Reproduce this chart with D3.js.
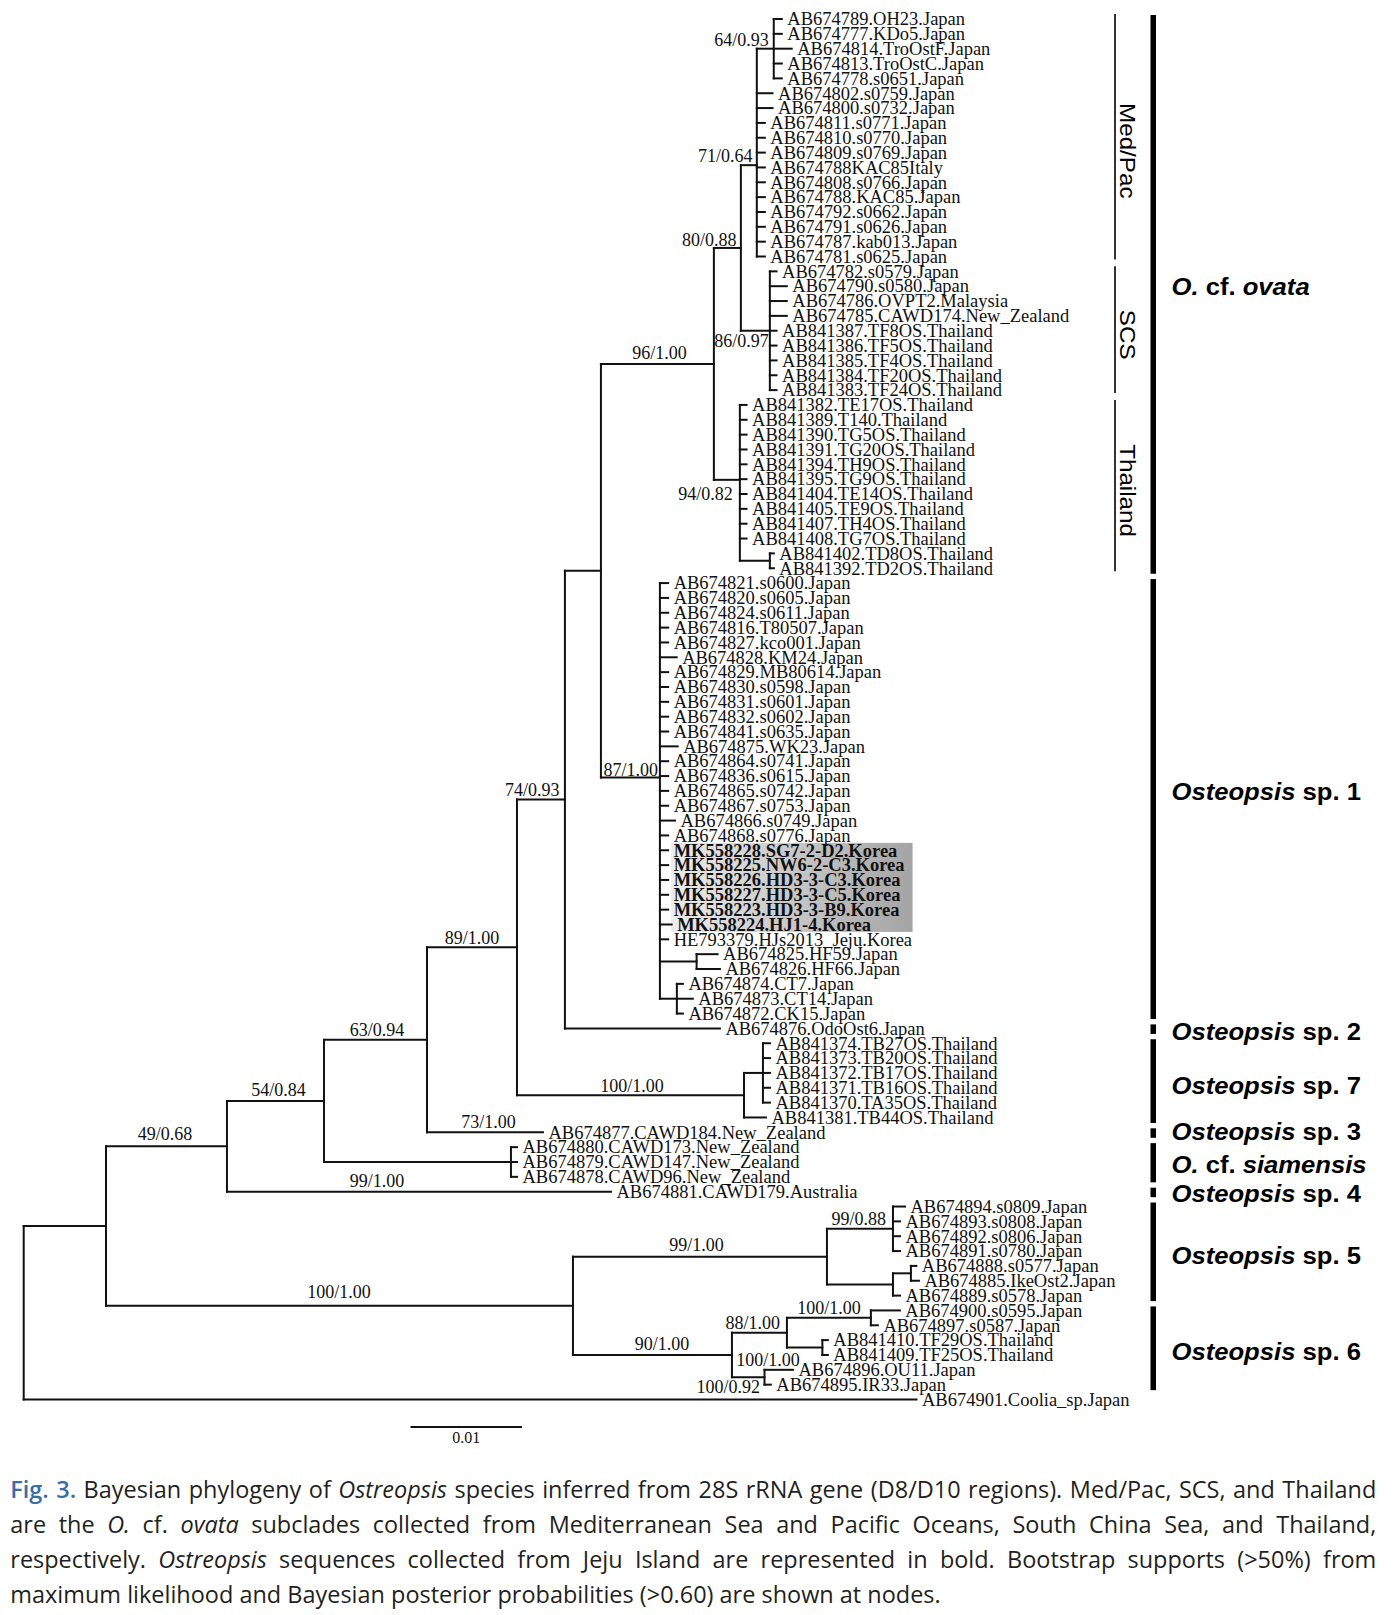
<!DOCTYPE html>
<html>
<head>
<meta charset="utf-8">
<script src="https://cdn.jsdelivr.net/npm/d3@7"></script>
<style>
  html, body { margin: 0; padding: 0; background: #fff; }
  svg { display: block; }
</style>
</head>
<body>
<svg id="chart" width="1395" height="1615"></svg>
<script>
// ---------------- DATA ----------------
// Clades as Newick strings (branch lengths in substitutions/site), internal node ids after ')'
const medPac = "((AB674789.OH23.Japan:0.00072,AB674777.KDo5.Japan:0.00072,AB674814.TroOstF.Japan:0.00161,AB674813.TroOstC.Japan:0.00072,AB674778.s0651.Japan:0.00072)Q:0.00152,AB674802.s0759.Japan:0.00141,AB674800.s0732.Japan:0.00141,AB674811.s0771.Japan:0.00072,AB674810.s0770.Japan:0.00072,AB674809.s0769.Japan:0.00072,AB674788KAC85Italy:0.00072,AB674808.s0766.Japan:0.00072,AB674788.KAC85.Japan:0.00072,AB674792.s0662.Japan:0.00072,AB674791.s0626.Japan:0.00072,AB674787.kab013.Japan:0.00072,AB674781.s0625.Japan:0.00072)O";
const scs = "(AB674782.s0579.Japan:0.00060,AB674790.s0580.Japan:0.00152,AB674786.OVPT2.Malaysia:0.00152,AB674785.CAWD174.New_Zealand:0.00152,AB841387.TF8OS.Thailand:0.00060,AB841386.TF5OS.Thailand:0.00060,AB841385.TF4OS.Thailand:0.00060,AB841384.TF20OS.Thailand:0.00060,AB841383.TF24OS.Thailand:0.00060)P";
const thai = "(AB841382.TE17OS.Thailand:0.00060,AB841389.T140.Thailand:0.00060,AB841390.TG5OS.Thailand:0.00060,AB841391.TG20OS.Thailand:0.00060,AB841394.TH9OS.Thailand:0.00060,AB841395.TG9OS.Thailand:0.00060,AB841404.TE14OS.Thailand:0.00060,AB841405.TE9OS.Thailand:0.00060,AB841407.TH4OS.Thailand:0.00060,AB841408.TG7OS.Thailand:0.00060,(AB841402.TD8OS.Thailand:0.00036,AB841392.TD2OS.Thailand:0.00036)AA:0.00269)N";
const sp1 = "(AB674821.s0600.Japan:0.00074,AB674820.s0605.Japan:0.00074,AB674824.s0611.Japan:0.00074,AB674816.T80507.Japan:0.00074,AB674827.kco001.Japan:0.00074,AB674828.KM24.Japan:0.00150,AB674829.MB80614.Japan:0.00074,AB674830.s0598.Japan:0.00074,AB674831.s0601.Japan:0.00074,AB674832.s0602.Japan:0.00074,AB674841.s0635.Japan:0.00074,AB674875.WK23.Japan:0.00159,AB674864.s0741.Japan:0.00074,AB674836.s0615.Japan:0.00074,AB674865.s0742.Japan:0.00074,AB674867.s0753.Japan:0.00074,AB674866.s0749.Japan:0.00135,AB674868.s0776.Japan:0.00074,MK558228.SG7-2-D2.Korea:0.00074,MK558225.NW6-2-C3.Korea:0.00074,MK558226.HD3-3-C3.Korea:0.00074,MK558227.HD3-3-C5.Korea:0.00074,MK558223.HD3-3-B9.Korea:0.00074,MK558224.HJ1-4.Korea:0.00105,HE793379.HJs2013_Jeju.Korea:0.00074,(AB674825.HF59.Japan:0.00188,AB674826.HF66.Japan:0.00209)HF:0.00329,(AB674874.CT7.Japan:0.00054,AB674873.CT14.Japan:0.00143,AB674872.CK15.Japan:0.00054)CT:0.00152)L";
const sp7 = "((AB841374.TB27OS.Thailand:0.00063,AB841373.TB20OS.Thailand:0.00063,AB841372.TB17OS.Thailand:0.00063,AB841371.TB16OS.Thailand:0.00063,AB841370.TA35OS.Thailand:0.00063)I:0.00170,AB841381.TB44OS.Thailand:0.00197)H";
const siam = "(AB674880.CAWD173.New_Zealand:0.00054,AB674879.CAWD147.New_Zealand:0.00054,AB674878.CAWD96.New_Zealand:0.00054)Sia";
const sp5 = "((AB674894.s0809.Japan:0.00108,AB674893.s0808.Japan:0.00063,AB674892.s0806.Japan:0.00063,AB674891.s0780.Japan:0.00063)S:0.00592,((AB674888.s0577.Japan:0.00049,AB674885.IkeOst2.Japan:0.00072)U:0.00161,AB674889.s0578.Japan:0.00063)T:0.00592)R";
const sp6 = "(((AB674900.s0595.Japan:0.00260,AB674897.s0587.Japan:0.00063)X:0.00753,(AB841410.TF29OS.Thailand:0.00049,AB841409.TF25OS.Thailand:0.00049)Y:0.00318)W:0.00493,(AB674896.OU11.Japan:0.00255,AB674895.IR33.Japan:0.00057)Z:0.00292)V";

const treeNewick =
  "((((((((((" + medPac + ":0.00143," + scs + ":0.00260)M:0.00242," +
  thai + ":0.00233)K:0.01013," + sp1 + ":0.00529)J:0.00323," +
  "AB674876.OdoOst6.Japan:0.01390)G:0.00430," + sp7 + ":0.02036)F:0.00807," +
  "AB674877.CAWD184.New_Zealand:0.01040)E:0.00924," + siam + ":0.01677)D:0.00870," +
  "AB674881.CAWD179.Australia:0.03444)B:0.01085,(" + sp5 + ":0.02278," + sp6 + ":0.01426)C:0.04188)A:0.00738," +
  "AB674901.Coolia_sp.Japan:0.08007)root;";

// support values (ML bootstrap / Bayesian PP) and the node they belong to
const supportNodes  = ["Q","O","M","P","N","K","L","G","F","E","D","B","H","AB674877.CAWD184.New_Zealand","Sia","C","R","S","V","W","X","Z","Z"];
const supportValues = ["64/0.93","71/0.64","80/0.88","86/0.97","94/0.82","96/1.00","87/1.00","74/0.93","89/1.00","63/0.94","54/0.84","49/0.68","100/1.00","73/1.00","99/1.00","100/1.00","99/1.00","99/0.88","90/1.00","88/1.00","100/1.00","100/1.00","100/0.92"];

// sequences from Jeju (bold, highlighted)
const jejuLeaves = ["MK558228.SG7-2-D2.Korea","MK558225.NW6-2-C3.Korea","MK558226.HD3-3-C3.Korea","MK558227.HD3-3-C5.Korea","MK558223.HD3-3-B9.Korea","MK558224.HJ1-4.Korea"];

// species clades (right-hand bars)
const cladeLabels = ["*O.* cf. *ovata*","*Osteopsis* sp. 1","*Osteopsis* sp. 2","*Osteopsis* sp. 7","*Osteopsis* sp. 3","*O.* cf. *siamensis*","*Osteopsis* sp. 4","*Osteopsis* sp. 5","*Osteopsis* sp. 6"];
const cladeFirst = ["AB674789.OH23.Japan","AB674821.s0600.Japan","AB674876.OdoOst6.Japan","AB841374.TB27OS.Thailand","AB674877.CAWD184.New_Zealand","AB674880.CAWD173.New_Zealand","AB674881.CAWD179.Australia","AB674894.s0809.Japan","AB674900.s0595.Japan"];
const cladeLast  = ["AB841392.TD2OS.Thailand","AB674872.CK15.Japan","AB674876.OdoOst6.Japan","AB841381.TB44OS.Thailand","AB674877.CAWD184.New_Zealand","AB674878.CAWD96.New_Zealand","AB674881.CAWD179.Australia","AB674889.s0578.Japan","AB674895.IR33.Japan"];

// O. cf. ovata subclades
const subLabels = ["Med/Pac","SCS","Thailand"];
const subFirst = ["AB674789.OH23.Japan","AB674782.s0579.Japan","AB841382.TE17OS.Thailand"];
const subLast  = ["AB674781.s0625.Japan","AB841383.TF24OS.Thailand","AB841392.TD2OS.Thailand"];

const scaleBarValue = 0.01;
const scaleBarLabel = "0.01";

const captionLines = [
  "Fig. 3. Bayesian phylogeny of *Ostreopsis* species inferred from 28S rRNA gene (D8/D10 regions). Med/Pac, SCS, and Thailand",
  "are the *O.* cf. *ovata* subclades collected from Mediterranean Sea and Pacific Oceans, South China Sea, and Thailand,",
  "respectively. *Ostreopsis* sequences collected from Jeju Island are represented in bold. Bootstrap supports (>50%) from",
  "maximum likelihood and Bayesian posterior probabilities (>0.60) are shown at nodes."
];

// ---------------- DRAWING ----------------
function parseNewick(s) {
  let i = 0;
  function node() {
    const n = {};
    if (s[i] === "(") {
      i++;
      n.children = [node()];
      while (s[i] === ",") { i++; n.children.push(node()); }
      i++; // ')'
    }
    let name = "";
    while (i < s.length && !",():;".includes(s[i])) name += s[i++];
    n.name = name.trim();
    n.length = 0;
    if (s[i] === ":") {
      i++;
      let len = "";
      while (i < s.length && !",();".includes(s[i])) len += s[i++];
      n.length = +len;
    }
    return n;
  }
  return node();
}

const svg = d3.select("#chart");
const serif = "'Liberation Serif','Times New Roman',Times,serif";
const sans = "'Liberation Sans',Arial,Helvetica,sans-serif";

const root = d3.hierarchy(parseNewick(treeNewick));
root.eachBefore(n => { n.dist = n.parent ? n.parent.dist + n.data.length : 0; });
const leaves = root.leaves();
const byName = new Map(root.descendants().map(d => [d.data.name, d]));

const x = d3.scaleLinear().domain([0, scaleBarValue]).range([23.7, 135.2]);
const y = d3.scaleLinear().domain([0, leaves.length - 1]).range([19, 1399.5]);
const step = y(1) - y(0);
leaves.forEach((l, i) => { l.py = y(i); });
root.eachAfter(n => {
  if (n.children) n.py = d3.mean(n.children, c => c.py);
  n.px = x(n.dist);
});

// highlight group (filled later, drawn beneath labels)
const gHi = svg.append("g");
const grad = svg.append("defs").append("linearGradient").attr("id", "hiGrad")
  .attr("x1", "0%").attr("x2", "100%").attr("y1", "0%").attr("y2", "0%");
grad.append("stop").attr("offset", "0%").attr("stop-color", "#ececec");
grad.append("stop").attr("offset", "100%").attr("stop-color", "#a4a4a4");

// branches
const gTree = svg.append("g").attr("stroke", "#111").attr("stroke-width", 2)
  .attr("stroke-linecap", "square").attr("fill", "none");
gTree.selectAll("line.h").data(root.descendants().filter(d => d.parent)).join("line")
  .attr("class", "h")
  .attr("x1", d => d.parent.px).attr("x2", d => d.px)
  .attr("y1", d => d.py).attr("y2", d => d.py);
gTree.selectAll("line.v").data(root.descendants().filter(d => d.children)).join("line")
  .attr("class", "v")
  .attr("x1", d => d.px).attr("x2", d => d.px)
  .attr("y1", d => d.children[0].py).attr("y2", d => d.children[d.children.length - 1].py);

// leaf labels
const labelGap = 5.5;
const gLab = svg.append("g").attr("font-family", serif).attr("font-size", 18.5).attr("fill", "#111");
const leafText = gLab.selectAll("text").data(leaves).join("text")
  .attr("x", d => d.px + labelGap).attr("y", d => d.py).attr("dy", "0.34em")
  .attr("font-weight", d => jejuLeaves.includes(d.data.name) ? "bold" : null)
  .text(d => d.data.name);

// highlight box behind Jeju sequences
(function () {
  const nodes = leaves.filter(l => jejuLeaves.includes(l.data.name));
  let minX = Infinity, maxX = -Infinity;
  leafText.filter(d => jejuLeaves.includes(d.data.name)).each(function (d) {
    const w = this.getComputedTextLength();
    minX = Math.min(minX, d.px + labelGap);
    maxX = Math.max(maxX, d.px + labelGap + w);
  });
  const top = nodes[0].py - step / 2, bot = nodes[nodes.length - 1].py + step / 2;
  gHi.append("rect").attr("x", minX - 2.6).attr("y", top)
    .attr("width", maxX + 8 - (minX - 2.6)).attr("height", bot - top)
    .attr("fill", "url(#hiGrad)");
})();

// support labels
const supportPlacement = [
  {m: "left", dx: -5, dy: -9},     // Q
  {m: "left", dx: -4.3, dy: -9.7}, // O
  {m: "left", dx: -4.3, dy: -7.6}, // M
  {m: "left", dx: -1, dy: 10},     // P
  {m: "left", dx: -7, dy: 14.5},   // N
  {m: "above", dx: 2, dy: -11.2},  // K
  {m: "left", dx: -2, dy: -7.5},   // L
  {m: "left", dx: -5.5, dy: -9.4}, // G
  {m: "above", dx: 0, dy: -9.5},   // F
  {m: "above", dx: 1.5, dy: -9.5}, // E
  {m: "above", dx: 3, dy: -11.5},  // D
  {m: "above", dx: -1.5, dy: -12}, // B
  {m: "above", dx: 1.5, dy: -9.5}, // H
  {m: "above", dx: 3.5, dy: -10.6},// CAWD184
  {m: "above", dx: -40.5, dy: 19}, // Sia
  {m: "above", dx: -0.5, dy: -14}, // C
  {m: "above", dx: -3.5, dy: -11.5},// R
  {m: "left", dx: -7, dy: -10},    // S
  {m: "above", dx: 9.5, dy: -11},  // V
  {m: "left", dx: -7, dy: -10},    // W
  {m: "above", dx: 0, dy: -10.4},  // X
  {m: "mid", dx: 3.4, dy: -17},    // Z
  {m: "left", dx: -4.6, dy: 10}    // Z
];
const gSup = svg.append("g").attr("font-family", serif).attr("font-size", 18).attr("fill", "#111");
supportNodes.forEach((id, k) => {
  const n = byName.get(id), p = supportPlacement[k];
  let tx, anchor;
  if (p.m === "left") { tx = n.px + p.dx; anchor = "end"; }
  else if (p.m === "mid") { tx = n.px + p.dx; anchor = "middle"; }
  else { tx = (n.parent.px + n.px) / 2 + p.dx; anchor = "middle"; }
  gSup.append("text").attr("x", tx).attr("y", n.py + p.dy).attr("dy", "0.34em")
    .attr("text-anchor", anchor).text(supportValues[k]);
});

// rich text helper (*italic*)
function rich(sel, str) {
  str.split(/(\*[^*]+\*)/).filter(s => s.length).forEach(seg => {
    const it = seg.startsWith("*");
    sel.append("tspan").attr("font-style", it ? "italic" : "normal")
      .text(it ? seg.slice(1, -1) : seg);
  });
}

// clade bars + labels
const cladeDy = [-7, -7, 3, 5, -1, 3, 2, 5, 4];
const gClade = svg.append("g");
cladeLabels.forEach((lab, k) => {
  const a = byName.get(cladeFirst[k]).py, b = byName.get(cladeLast[k]).py;
  gClade.append("rect").attr("x", 1150.5).attr("width", 5.5)
    .attr("y", a - 4).attr("height", (b + 5.5) - (a - 4)).attr("fill", "#000");
  const cy = (a + b) / 2 + cladeDy[k];
  const t = gClade.append("g").attr("transform", `translate(1171.5,${cy + 8.3}) scale(1.1,1)`)
    .append("text").attr("font-family", sans).attr("font-size", 23.3)
    .attr("font-weight", "bold").attr("fill", "#000").style("white-space", "pre");
  rich(t, lab);
});

// subclade lines + rotated labels
const subDy = [14, 5, 5];
subLabels.forEach((lab, k) => {
  const a = byName.get(subFirst[k]).py, b = byName.get(subLast[k]).py;
  gClade.append("line").attr("x1", 1115).attr("x2", 1115).attr("y1", a - 5).attr("y2", b + 3)
    .attr("stroke", "#000").attr("stroke-width", 1.6);
  gClade.append("g").attr("transform", `translate(1119.5,${(a + b) / 2 - 1 + subDy[k]}) rotate(90) scale(1.1,1)`)
    .append("text").attr("font-family", sans).attr("font-size", 22).attr("fill", "#000")
    .attr("text-anchor", "middle").text(lab);
});

// scale bar
const sbX = 410.5, sbY = 1427;
svg.append("line").attr("x1", sbX).attr("x2", sbX + x(scaleBarValue) - x(0))
  .attr("y1", sbY).attr("y2", sbY).attr("stroke", "#111").attr("stroke-width", 2);
svg.append("text").attr("x", sbX + (x(scaleBarValue) - x(0)) / 2).attr("y", 1443.3)
  .attr("text-anchor", "middle").attr("font-family", serif).attr("font-size", 16)
  .attr("fill", "#111").text(scaleBarLabel);

// caption (justified)
(function () {
  const capSize = 23.4;
  const gCap = svg.append("g").attr("font-family", "'Open Sans','Noto Sans',sans-serif")
    .attr("font-size", capSize).attr("fill", "#231f20");
  const lines = captionLines.map(l => l.split(" ").map(w => {
    const it = /^\*.*\*$/.test(w);
    return {text: it ? w.slice(1, -1) : w, italic: it};
  }));
  lines[0][0].blue = true; lines[0][1].blue = true;
  lines.forEach(words => words.forEach(w => {
    w.el = gCap.append("g").append("text")
      .attr("font-style", w.italic ? "italic" : null)
      .attr("font-weight", w.blue ? 600 : null)
      .attr("fill", w.blue ? "#3a6ca6" : null).text(w.text);
    w.w = w.el.node().getComputedTextLength();
  }));
  const t1 = gCap.append("text").text("n n"), t2 = gCap.append("text").text("nn");
  const spaceW = t1.node().getComputedTextLength() - t2.node().getComputedTextLength();
  t1.remove(); t2.remove();
  const last = lines[lines.length - 1];
  const natural = d3.sum(last, w => w.w) + spaceW * (last.length - 1);
  const left = 10.3, right = 1376.3, lastRight = 940.7;
  const sx = (lastRight - left) / natural;
  lines.forEach((words, li) => {
    const base = 1498.3 + li * 35;
    const total = sx * d3.sum(words, w => w.w);
    const gap = li < lines.length - 1 ? (right - left - total) / (words.length - 1) : sx * spaceW;
    let cx = left;
    words.forEach(w => {
      d3.select(w.el.node().parentNode).attr("transform", `translate(${cx},${base}) scale(${sx},1)`);
      cx += sx * w.w + gap;
    });
  });
})();
</script>
</body>
</html>
